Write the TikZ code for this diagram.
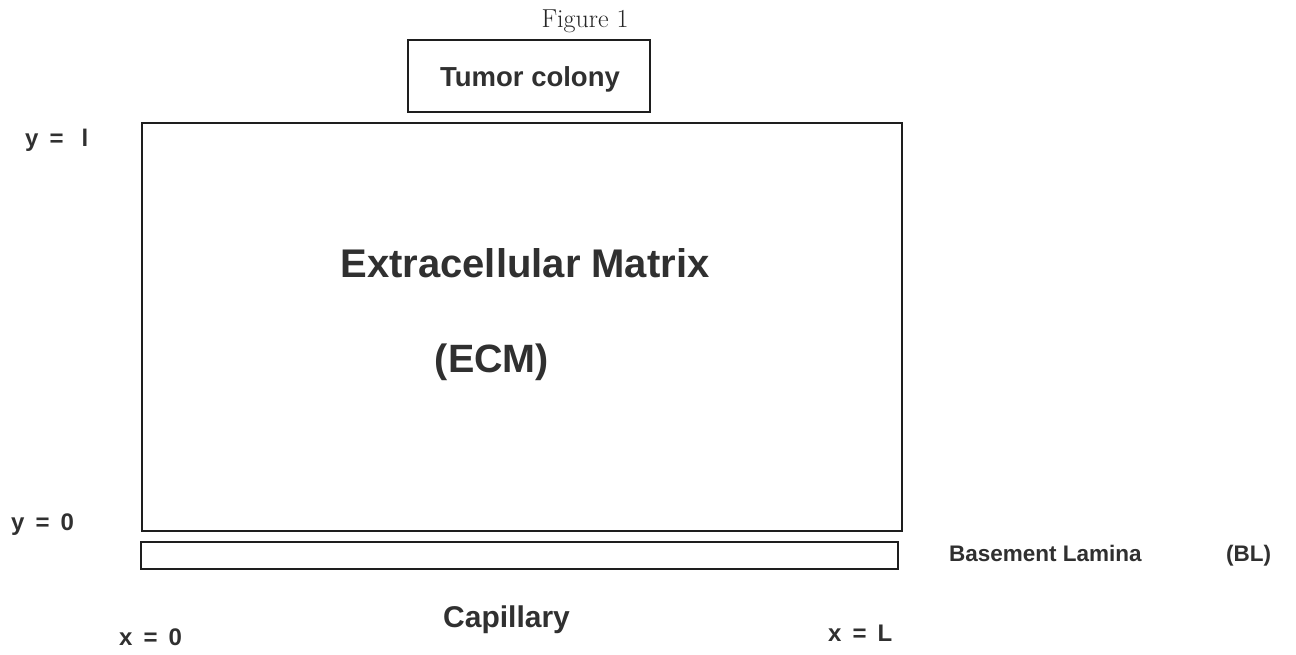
\documentclass[tikz,border=0pt]{standalone}
\usepackage{fontspec}
\newfontfamily\labfont{Liberation Sans}
\definecolor{ink}{HTML}{303030}
\definecolor{edge}{HTML}{1E1E1E}
\tikzset{
  lab/.style={font=\labfont\bfseries\fontsize{#1}{#1}\selectfont, text=ink, inner sep=0pt, anchor=base west},
  box/.style={draw=edge, line width=#1, fill=none},
}
\newcommand{\gp}{\hspace{11pt}}
\begin{document}
\begin{tikzpicture}[x=1pt,y=-1pt]
\useasboundingbox[fill=white] (0,0) rectangle (1296,654);
% caption
\node[font=\fontsize{26}{26}\selectfont, text=black!85, inner sep=0pt, anchor=base] (fig) at (585,27) {Figure 1};
% tumor colony
\draw[box=1.8pt] (408,40) rectangle (650,112);
\coordinate (tumorbox) at (529,76);
\node[lab=27.5, anchor=base] (tumor) at (530,86) {Tumor colony};
% extracellular matrix
\draw[box=1.8pt] (142,123) rectangle (902,531);
\coordinate (ecm) at (522,327);
\node[lab=40, anchor=base] (ecmname) at (525,277) {Extracellular Matrix};
\node[lab=39.5, anchor=base] (ecmabbr) at (492,372) {(ECM)};
% basement lamina
\draw[box=2.4pt] (141,542) rectangle (898,569);
\coordinate (bl) at (520,556);
\node[lab=22.5] (blname) at (949,561) {Basement Lamina};
\node[lab=22.5] (blabbr) at (1226,561) {(BL)};
% capillary
\node[lab=30] (cap) at (443,627) {Capillary};
% axis labels
\node[lab=24] (ytop) at (25,146) {y\gp=\hspace{18pt}l};
\node[lab=24] (ybot) at (11,530) {y\gp=\gp0};
\node[lab=24] (xleft) at (119,645) {x\gp=\gp0};
\node[lab=24] (xright) at (828,641) {x\gp=\gp L};
\end{tikzpicture}
\end{document}
